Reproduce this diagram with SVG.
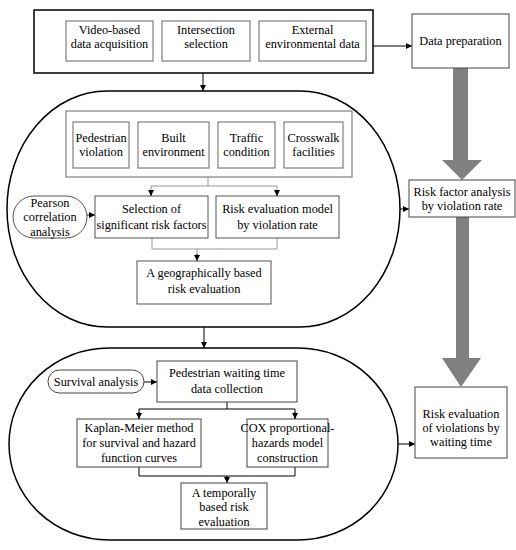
<svg xmlns="http://www.w3.org/2000/svg" width="516" height="550" viewBox="0 0 516 550" font-family="'Liberation Serif', 'Times New Roman', 'DejaVu Serif', serif">
<defs>
<marker id="ah" viewBox="0 0 8 8" refX="8" refY="4" markerWidth="6" markerHeight="6" markerUnits="userSpaceOnUse" orient="auto">
<path d="M0,0 L8,4 L0,8 Z" fill="#000"/>
</marker>
</defs>
<style>
text{font-family:'Liberation Serif','Times New Roman','DejaVu Serif',serif;font-size:12.3px;fill:#000;text-anchor:middle}
.outer{fill:none;stroke:#000;stroke-width:1.5}
.ib{fill:#fff;stroke:#666;stroke-width:1}
.bb{fill:#fff;stroke:#444;stroke-width:1}
.rb{fill:#fff;stroke:#555;stroke-width:1}
.gl{fill:none;stroke:#999;stroke-width:1}
.bl{fill:none;stroke:#000;stroke-width:1}
.big{fill:#808080;stroke:none}
</style>
<g id="connectors">
<line class="bl" x1="373" y1="46" x2="412" y2="46" marker-end="url(#ah)"/>
<line class="bl" x1="203" y1="73" x2="203" y2="91" marker-end="url(#ah)"/>
<polyline class="gl" points="208,177 208,186"/>
<polyline class="gl" points="151,196 151,186 277,186 277,196"/>
<line class="bl" x1="151" y1="190" x2="151" y2="196" marker-end="url(#ah)"/>
<line class="bl" x1="277" y1="190" x2="277" y2="196" marker-end="url(#ah)"/>
<line class="bl" x1="87" y1="215" x2="95" y2="215" marker-end="url(#ah)"/>
<polyline class="gl" points="152,238 152,249 277,249 277,238"/>
<line class="gl" x1="197" y1="249" x2="197" y2="255"/>
<line class="bl" x1="197" y1="254" x2="197" y2="261" marker-end="url(#ah)"/>
<line class="bl" x1="400" y1="209" x2="409" y2="209" marker-end="url(#ah)"/>
<line class="bl" x1="204" y1="327" x2="204" y2="348" marker-end="url(#ah)"/>
<line class="bl" x1="144" y1="382" x2="157" y2="382" marker-end="url(#ah)"/>
<polyline class="bl" points="227,402 227,409"/>
<polyline class="bl" points="139,419 139,409 295,409 295,419" />
<line class="bl" x1="139" y1="412" x2="139" y2="419" marker-end="url(#ah)"/>
<line class="bl" x1="295" y1="412" x2="295" y2="419" marker-end="url(#ah)"/>
<polyline class="bl" points="139,467 139,476 295,476 295,467"/>
<line class="bl" x1="227" y1="476" x2="227" y2="483" marker-end="url(#ah)"/>
<line class="bl" x1="398" y1="444" x2="415" y2="444" marker-end="url(#ah)"/>
<polygon class="big" points="453,68 468,68 468,160 482,160 462,180 442,160 453,160"/>
<polygon class="big" points="456,217 469,217 469,358 481,358 461,387 442,358 456,358"/>
</g>
<g id="top-box">
<rect class="outer" x="34" y="10" width="339" height="63"/>
</g>
<g id="video"><rect class="ib" x="66" y="21" width="87" height="40"/><text x="109.5" y="34">Video-based</text><text x="109.5" y="48">data acquisition</text></g>
<g id="intersection"><rect class="ib" x="162" y="21" width="88" height="40"/><text x="206" y="34">Intersection</text><text x="206" y="48">selection</text></g>
<g id="external"><rect class="ib" x="259" y="21" width="107" height="40"/><text x="312.5" y="34">External</text><text x="312.5" y="48">environmental data</text></g>
<g id="data-prep"><rect class="bb" x="412" y="14" width="97" height="54"/><text x="460.5" y="45">Data preparation</text></g>
<g id="stadium1"><rect class="outer" x="7" y="91" width="393" height="236" rx="100" ry="118"/></g>
<g id="factors"><rect class="ib" x="66" y="111" width="286" height="66"/></g>
<g id="ped-violation"><rect class="ib" x="73" y="122" width="56" height="46"/><text x="101" y="142">Pedestrian</text><text x="101" y="156">violation</text></g>
<g id="built"><rect class="ib" x="138" y="122" width="71" height="46"/><text x="173.5" y="142">Built</text><text x="173.5" y="156">environment</text></g>
<g id="traffic"><rect class="ib" x="218" y="122" width="57" height="46"/><text x="246.5" y="142">Traffic</text><text x="246.5" y="156">condition</text></g>
<g id="crosswalk"><rect class="ib" x="284" y="122" width="59" height="46"/><text x="313.5" y="142">Crosswalk</text><text x="313.5" y="156">facilities</text></g>
<g id="pearson"><rect class="rb" x="13" y="196" width="74" height="42" rx="21" ry="21"/><text x="50" y="207">Pearson</text><text x="50" y="221">correlation</text><text x="50" y="236">analysis</text></g>
<g id="selection"><rect class="rb" x="95" y="196" width="113" height="42"/><text x="151.5" y="213">Selection of</text><text x="151.5" y="229">significant risk factors</text></g>
<g id="risk-model"><rect class="rb" x="216" y="196" width="123" height="42"/><text x="277.5" y="213">Risk evaluation model</text><text x="277.5" y="229">by violation rate</text></g>
<g id="geo"><rect class="rb" x="137" y="261" width="134" height="43"/><text x="204" y="277">A geographically based</text><text x="204" y="293">risk evaluation</text></g>
<g id="risk-factor"><rect class="bb" x="409" y="180" width="106" height="37"/><text x="462" y="196">Risk factor analysis</text><text x="462" y="210">by violation rate</text></g>
<g id="stadium2"><rect class="outer" x="9" y="348" width="389" height="192" rx="100" ry="96"/></g>
<g id="survival"><rect class="bb" x="48" y="370" width="96" height="23" rx="11.5" ry="11.5"/><text x="96" y="386">Survival analysis</text></g>
<g id="waiting"><rect class="bb" x="157" y="361" width="140" height="41"/><text x="227" y="377">Pedestrian waiting time</text><text x="227" y="393">data collection</text></g>
<g id="kaplan"><rect class="bb" x="77" y="419" width="124" height="48"/><text x="139" y="432">Kaplan-Meier method</text><text x="139" y="447">for survival and hazard</text><text x="139" y="462">function curves</text></g>
<g id="cox"><rect class="bb" x="247" y="419" width="81" height="48"/><text x="287.5" y="432">COX proportional-</text><text x="287.5" y="447">hazards model</text><text x="287.5" y="462">construction</text></g>
<g id="temporal"><rect class="bb" x="181" y="483" width="86" height="46"/><text x="224" y="497">A temporally</text><text x="224" y="511">based risk</text><text x="224" y="526">evaluation</text></g>
<g id="risk-eval"><rect class="bb" x="415" y="387" width="92" height="71"/><text x="461" y="418">Risk evaluation</text><text x="461" y="432">of violations by</text><text x="461" y="446">waiting time</text></g>
</svg>
